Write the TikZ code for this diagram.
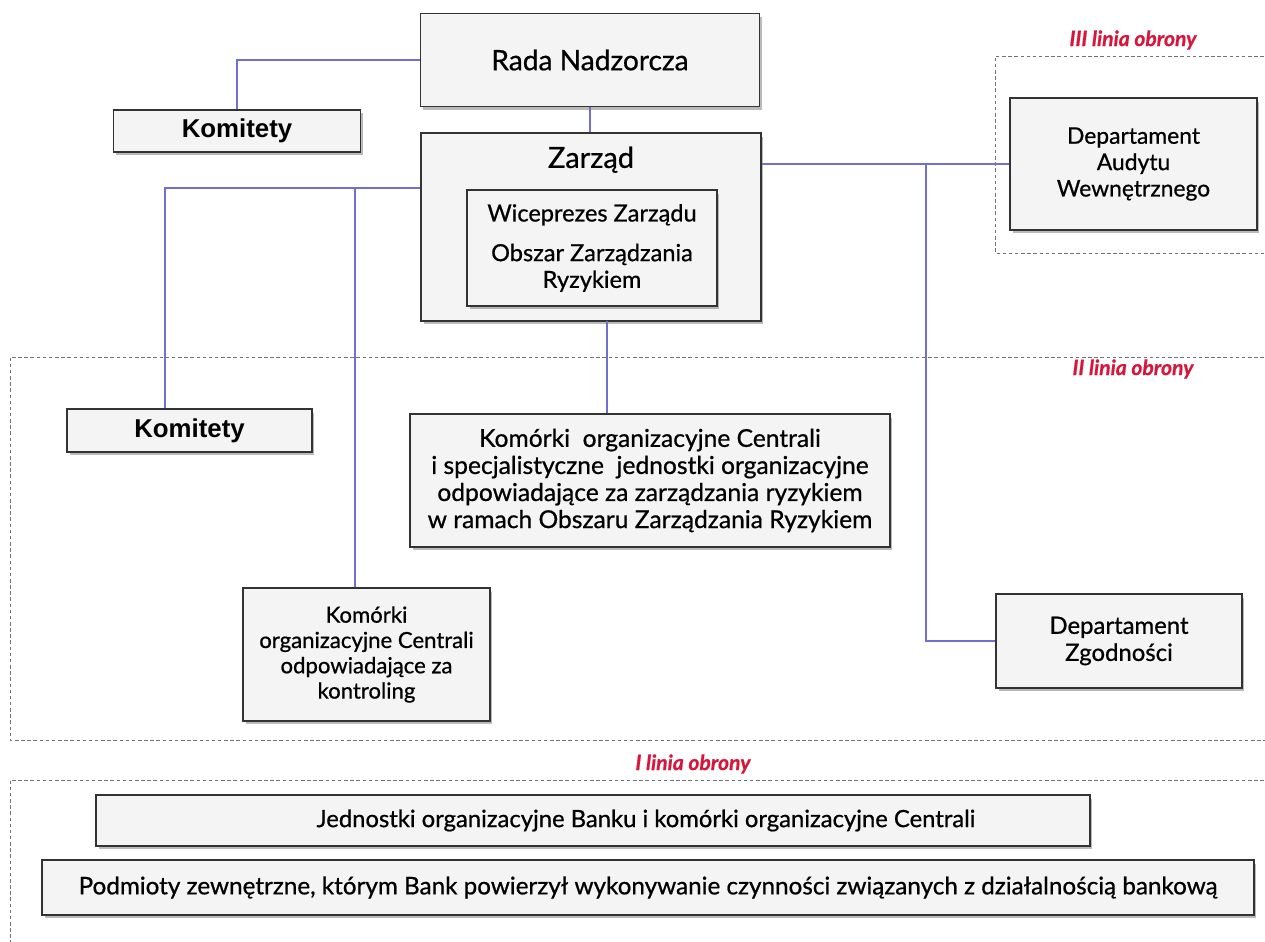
\documentclass[tikz,border=0pt]{standalone}
\usepackage{fontspec}
\setmainfont{Lato}[FakeBold=0.7]
\newfontfamily\komfont{Liberation Sans}
\usetikzlibrary{positioning, shadows, calc}
\definecolor{linkblue}{RGB}{112,112,206}
\definecolor{obronared}{RGB}{214,22,58}
\tikzset{
	unit/.style={draw=black!80, line width=0.8pt, fill=gray!9, align=center,
		font=\fontsize{13.8}{15.6}\selectfont,
		drop shadow={shadow xshift=0.5mm, shadow yshift=-0.7mm, fill=black!45, opacity=0.6}},
	title/.style={font=\fontsize{16}{19}\selectfont},
	komitet/.style={unit, font=\komfont\bfseries\fontsize{14.7}{18}\selectfont},
	link/.style={draw=linkblue, line width=1.3pt},
	zone/.style={draw=black!55, line width=0.5pt, dash pattern=on 2pt off 1.5pt},
	zonelabel/.style={text=obronared, font=\bfseries\itshape\fontsize{12}{14}\selectfont},
}

\begin{document}
\begin{tikzpicture}[x=0.02cm, y=-0.02cm]
			\useasboundingbox (0,0) rectangle (1265,942);
			
			% linie obrony
			\draw[zone] (1270,56) -- (995,56) -- (995,253) -- (1270,253);
			\draw[zone] (1270,357) -- (10,357) -- (10,740) -- (1270,740);
			\draw[zone] (1270,780) -- (10,780) -- (10,945);
			\node[zonelabel] (L3) at (1133,40) {III linia obrony};
			\node[zonelabel] (L2) at (1133,369) {II linia obrony};
			\node[zonelabel] (L1) at (693,764) {I linia obrony};
			
			\node[unit, title, minimum width=6.78cm, minimum height=1.86cm] (RADA) at (590,60) {Rada Nadzorcza};
			\node[komitet, minimum width=4.94cm, minimum height=0.84cm] (KOM1) at (237,131) {Komitety};
			\node[unit, minimum width=6.8cm, minimum height=3.76cm] (ZARZAD) at (591,227) {};
			\node[title, font=\fontsize{16.5}{19}\selectfont, below=0.16cm of ZARZAD.north] (ZTXT) {Zarząd};
			\node[unit, font=\fontsize{13.4}{15.2}\selectfont, minimum width=5cm, minimum height=2.32cm] (WICE) at (592,248) {Wiceprezes Zarządu\\[0.26cm]Obszar Zarządzania\\Ryzykiem};
			\node[unit, font=\fontsize{13}{15}\selectfont, minimum width=4.94cm, minimum height=2.64cm] (AUDYT) at (1133.5,164) {Departament\\Audytu\\Wewnętrznego};
			
			\node[komitet, minimum width=4.9cm, minimum height=0.86cm] (KOM2) at (189.5,430.5) {Komitety};
			\node[unit, font=\fontsize{14}{15.4}\selectfont, minimum width=9.6cm, minimum height=2.66cm] (RYZYKO) at (650,480.5) {Komórki~ organizacyjne Centrali\\i specjalistyczne~ jednostki organizacyjne\\odpowiadające za zarządzania ryzykiem\\w ramach Obszaru Zarządzania Ryzykiem};
			\node[unit, font=\fontsize{12.6}{14.4}\selectfont, minimum width=4.94cm, minimum height=2.66cm] (KONTROL) at (366.5,654.5) {Komórki\\organizacyjne Centrali\\odpowiadające za\\kontroling};
			\node[unit, font=\fontsize{13.6}{15.4}\selectfont, minimum width=4.92cm, minimum height=1.88cm] (ZGODN) at (1119,641) {Departament\\Zgodności};
			
			\node[unit, font=\fontsize{13.55}{15.4}\selectfont, minimum width=19.88cm, minimum height=1.02cm] (JEDN) at (593,820.5) {\hspace*{2.12cm}Jednostki organizacyjne Banku i komórki organizacyjne Centrali};
			\node[unit, minimum width=24.24cm, minimum height=1.1cm] (PODM) at (648,887.5) {Podmioty zewnętrzne, którym Bank powierzył wykonywanie czynności związanych z działalnością bankową};
			
			\coordinate (JL) at ([yshift=0.78cm]ZARZAD.west);
			\coordinate (JR) at (926,164);
			\coordinate (JD) at (607,321);
			
			\draw[link] (KOM1.north) |- (RADA.west);
			\draw[link] (RADA.south) -- (RADA.south |- ZARZAD.north);
			\draw[link] (JL) -| ([xshift=-0.49cm]KOM2.north);
			\draw[link] ([xshift=-0.23cm]KONTROL.north) -- ([xshift=-0.23cm]KONTROL.north |- JL);
			\draw[link] (ZARZAD.east |- AUDYT.west) -- (AUDYT.west);
			\draw[link] (JR) |- (ZGODN.west);
			\draw[link] (JD) -- (JD |- RYZYKO.north);
			
		\end{tikzpicture}
\end{document}
